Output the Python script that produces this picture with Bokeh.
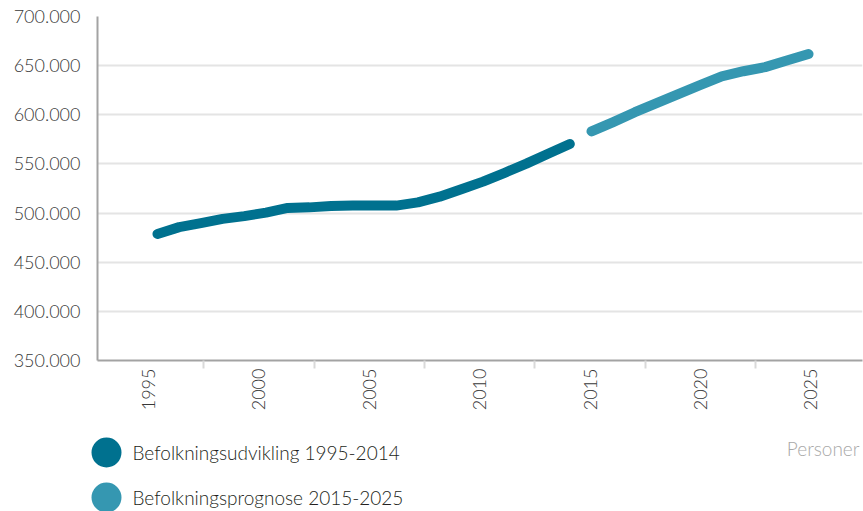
from bokeh.plotting import figure
from bokeh.models import Range1d, LinearAxis, FixedTicker
from bokeh.layouts import column
from bokeh.embed import file_html
from bokeh.resources import INLINE
from bokeh.core.properties import value
import math

# ---------------- data ----------------
years_hist = list(range(1995, 2015))
pop_hist = [478800, 485700, 489700, 494100, 496900, 500500, 505200, 505800,
            507100, 507600, 507600, 507600, 510900, 516700, 524300, 532000,
            541000, 550300, 560400, 570300]
years_prog = list(range(2015, 2026))
pop_prog = [583100, 592600, 602600, 611800, 621100, 630100, 639200, 644300,
            648500, 655200, 661800]
y_ticks = [350000, 400000, 450000, 500000, 550000, 600000, 650000, 700000]
x_ticks = [1995, 2000, 2005, 2010, 2015, 2020, 2025]
legend_labels = ["Befolkningsudvikling 1995-2014", "Befolkningsprognose  2015-2025"]
unit_label = "Personer"

# ---------------- style ----------------
C_HIST = "#00718f"
C_PROG = "#3597b1"
FONT = "'Lato Light', Lato"
AXIS_COL = "#a3a3a3"
GRID_COL = "#e4e4e4"
TICK_TXT = "#383838"

W = 863
H_MAIN = 423
H_LEG = 88

p = figure(width=W, height=H_MAIN, output_backend="svg", toolbar_location=None,
           x_range=Range1d(1992.235, 2027.488), y_range=Range1d(350000, 700000),
           x_axis_location=None, y_axis_location="left",
           min_border_left=97, min_border_right=1, min_border_top=16,
           min_border_bottom=63)
p.outline_line_color = None
p.background_fill_color = "white"
p.border_fill_color = "white"

# y axis
ya = p.yaxis[0]
ya.ticker = FixedTicker(ticks=y_ticks)
ya.major_label_overrides = {t: f"{t:,}".replace(",", ".") for t in y_ticks}
ya.major_tick_out = 0
ya.major_tick_in = 0
ya.minor_tick_out = 0
ya.minor_tick_in = 0
ya.axis_line_color = AXIS_COL
ya.axis_line_width = 2
ya.major_label_standoff = 17
ya.major_label_text_font = FONT
ya.major_label_text_font_size = "18px"
ya.major_label_text_color = TICK_TXT

p.xgrid.visible = False
p.ygrid.ticker = FixedTicker(ticks=y_ticks)
p.ygrid.grid_line_color = GRID_COL
p.ygrid.grid_line_width = 2

# x axis (category-style axis, slightly offset like the original)
p.extra_x_ranges = {"axis": Range1d(1992.69, 2027.34)}
xa = LinearAxis(x_range_name="axis",
                ticker=FixedTicker(ticks=x_ticks,
                                   minor_ticks=[t + 2.5 for t in x_ticks[:-1]]))
xa.major_label_orientation = math.pi / 2
xa.major_tick_out = 0
xa.major_tick_in = 0
xa.minor_tick_out = 8
xa.minor_tick_in = 0
xa.minor_tick_line_color = "#d9d9d9"
xa.minor_tick_line_width = 2
xa.axis_line_color = AXIS_COL
xa.axis_line_width = 2
xa.major_label_standoff = 0
xa.major_label_text_font = FONT
xa.major_label_text_font_size = "18px"
xa.major_label_text_color = TICK_TXT
p.add_layout(xa, "below")

p.line(years_hist, pop_hist, line_color=C_HIST, line_width=10,
       line_cap="round", line_join="round")
p.line(years_prog, pop_prog, line_color=C_PROG, line_width=10,
       line_cap="round", line_join="round")

# ---------------- legend strip ----------------
q = figure(width=W, height=H_LEG, output_backend="svg", toolbar_location=None,
           x_range=Range1d(0, W), y_range=Range1d(H_LEG, 0),
           x_axis_location=None, y_axis_location=None,
           min_border=0, min_border_left=0, min_border_right=0,
           min_border_top=0, min_border_bottom=0)
for fig in (p, q):
    if "frame_align" in fig.properties():
        fig.frame_align = False
q.grid.visible = False
q.outline_line_color = None
q.border_fill_color = "white"
q.background_fill_color = "white"

q.scatter(x=[106, 106], y=[29, 74], size=30, marker="circle",
          fill_color=[C_HIST, C_PROG], line_color=None)
q.text(x=[132, 132], y=[29, 74], text=legend_labels,
       text_font=value(FONT), text_font_size="19px", text_color="#231f20",
       text_baseline="middle", text_align="left")
q.text(x=[859], y=[25], text=[unit_label],
       text_font=value(FONT), text_font_size="19px", text_color="#a8a8a8",
       text_baseline="middle", text_align="right")

layout = column(p, q, spacing=0)
open("out.html", "w").write(file_html(layout, INLINE))
